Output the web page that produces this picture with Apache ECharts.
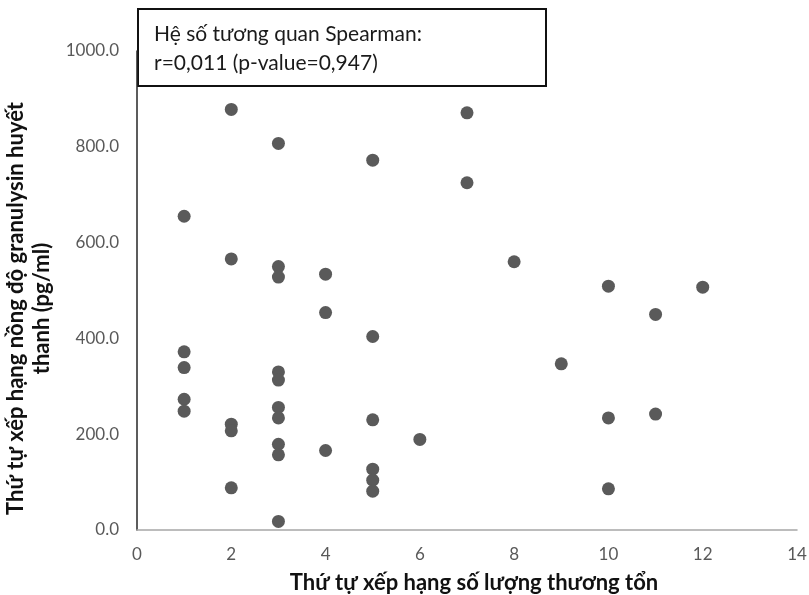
<!DOCTYPE html>
<html>
<head>
<meta charset="utf-8">
<script src="https://cdn.jsdelivr.net/npm/echarts@6/dist/echarts.min.js"></script>
<style>
  html, body { margin: 0; padding: 0; background: #fff; }
  #chart { width: 809px; height: 595px; }
</style>
</head>
<body>
<div id="chart"></div>
<script>
// thứ hạng số lượng thương tổn (x) và thứ hạng granulysin (y)
var lesionRank = [
  1, 1, 1, 1, 1,
  2, 2, 2, 2, 2,
  3, 3, 3, 3, 3, 3, 3, 3, 3, 3,
  4, 4, 4,
  5, 5, 5, 5, 5, 5,
  6,
  7, 7,
  8,
  9,
  10, 10, 10,
  11, 11,
  12
];
var granulysinRank = [
  655, 372, 339, 273, 248,
  878, 566, 221, 207, 88,
  807, 550, 528, 330, 313, 256, 234, 179, 157, 18,
  534, 454, 166,
  772, 404, 230, 127, 104, 81,
  189,
  871, 725,
  560,
  347,
  509, 234, 86,
  450, 242,
  507
];

var yTicks = [0, 200, 400, 600, 800, 1000];
var noteLines = ['Hệ số tương quan Spearman:', 'r=0,011 (p-value=0,947)'];

var points = lesionRank.map(function (x, i) { return [x, granulysinRank[i]]; });

var chart = echarts.init(document.getElementById('chart'));
var font = 'Lato';

chart.setOption({
  backgroundColor: '#fff',
  animation: false,
  grid: { left: 137, right: 12, top: 51, bottom: 65, outerBoundsMode: 'none' },
  xAxis: {
    type: 'value',
    min: 0, max: 14, interval: 2,
    name: 'Thứ tự xếp hạng số lượng thương tổn',
    nameLocation: 'middle',
    nameGap: 42,
    nameTextStyle: { fontFamily: font, fontWeight: 'bold', fontSize: 22, color: '#111', padding: [0, 0, 0, 14] },
    axisLine: { show: true, onZero: false, lineStyle: { color: '#a6a6a6', width: 1.5 } },
    axisTick: { show: false },
    splitLine: { show: false },
    axisLabel: { color: '#595959', fontFamily: font, fontSize: 17, margin: 16 }
  },
  yAxis: {
    type: 'value',
    min: yTicks[0], max: yTicks[yTicks.length - 1], interval: 200,
    name: 'Thứ tự xếp hạng nồng độ granulysin huyết\nthanh (pg/ml)',
    nameLocation: 'middle',
    nameGap: 80,
    nameTextStyle: { fontFamily: font, fontWeight: 'bold', fontSize: 22, color: '#111', lineHeight: 26, padding: [0, 36, 0, 0] },
    axisLine: { show: true, lineStyle: { color: '#262626', width: 1.5 } },
    axisTick: { show: false },
    splitLine: { show: false },
    axisLabel: {
      color: '#595959', fontFamily: font, fontSize: 17, margin: 18,
      formatter: function (v) { return v.toFixed(1); }
    }
  },
  series: [{
    type: 'scatter',
    data: points,
    symbol: 'circle',
    symbolSize: 13,
    itemStyle: { color: '#5a5a5a', opacity: 1 }
  }],
  graphic: [{
    type: 'group',
    left: 137, top: 8,
    children: [
      { type: 'rect', shape: { x: 0, y: 0, width: 408, height: 77 },
        style: { fill: '#fff', stroke: '#111', lineWidth: 2 } },
      { type: 'text', x: 16, y: 11,
        style: { text: noteLines.join('\n'), fontFamily: font, fontSize: 21, lineHeight: 29, fill: '#1a1a1a' } }
    ]
  }]
});
</script>
</body>
</html>
